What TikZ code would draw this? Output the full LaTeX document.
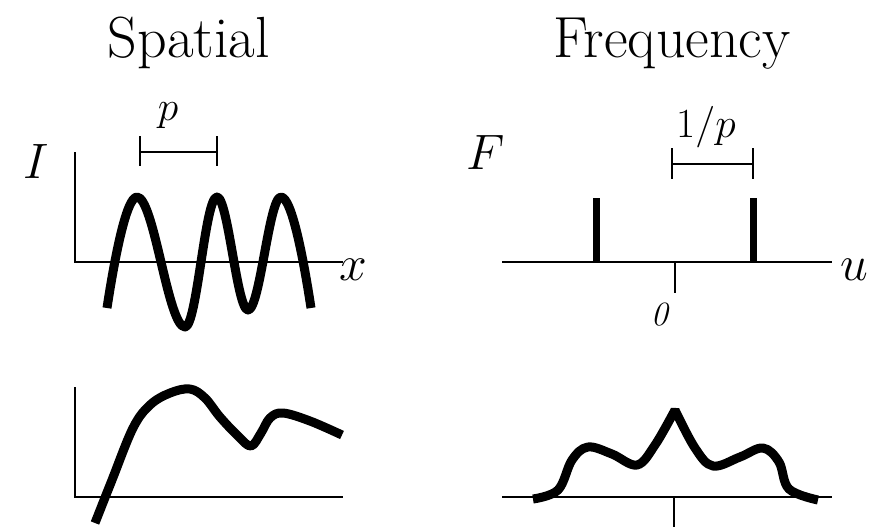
\documentclass[tikz,border=0pt]{standalone}

\tikzset{
  axis/.style={line width=1pt},
  wave/.style={line width=4.5pt, line join=round},
  spike/.style={line width=3.5pt},
  bracket/.style={line width=1pt},
  bigtext/.style={anchor=base, inner sep=0pt, font=\fontsize{29}{34}\selectfont},
  midtext/.style={anchor=base, inner sep=0pt, font=\fontsize{20}{24}\selectfont},
  smalltext/.style={anchor=base, inner sep=0pt, font=\fontsize{17}{20}\selectfont}
}

\begin{document}
\begin{tikzpicture}[x=0.5pt, y=-0.5pt]
  % page (875 x 527 pixels)
  \useasboundingbox (0,0) rectangle (875,527);

  % column titles
  \node[bigtext] (spatial) at (189,57) {Spatial};
  \node[bigtext] (frequency) at (672,57) {Frequency};

  % --- spatial, top: a grating
  \coordinate (o1) at (75,262);
  \draw[axis] (75,152) -- (o1) -- (343,262);
  \node[bigtext] (ilabel) at (36,178) {$I$};
  \node[bigtext] (xlabel) at (353,280) {$x$};

  % period bracket
  \draw[bracket] (140,152) -- (217,152);
  \foreach \x in {140,217}
    \draw[bracket] (\x,136) -- (\x,166);
  \node[midtext] (plabel) at (168,120) {$p$};

  % the wave
  \draw[wave] (107,308) .. controls (114,262) and (126,197) .. (137,197)
    .. controls (154,197) and (168,327) .. (185,327)
    .. controls (197,327) and (205,197) .. (217,197)
    .. controls (228,197) and (237,310) .. (248,310)
    .. controls (260,310) and (269,197) .. (281,197)
    .. controls (292,197) and (304,262) .. (311,308);

  % --- frequency, top: two spikes
  \coordinate (o2) at (675,262);
  \draw[axis] (502,262) -- (832,262);
  \draw[axis] (o2) -- (675,293);
  \node[bigtext] (flabel) at (486,169) {$F$};
  \node[bigtext] (ulabel) at (854,280) {$u$};
  \node[smalltext] (zero) at (660,325) {\textit{0}};

  \foreach \x in {596,753}
    \draw[spike] (\x,198) -- (\x,262);

  % inverse period bracket
  \draw[bracket] (672,164) -- (753,164);
  \foreach \x in {672,753}
    \draw[bracket] (\x,148) -- (\x,179);
  \node[midtext] (invp) at (706,137) {$1/p$};

  % --- spatial, bottom: an arbitrary signal
  \coordinate (o3) at (75,497);
  \draw[axis] (75,387) -- (o3) -- (343,497);
  \draw[wave] plot[smooth, tension=0.6] coordinates {
    (95,523) (112,480) (133,428) (150,405) (170,393) (190,389)
    (205,398) (220,417) (238,436) (251,446) (261,433) (270,418)
    (283,413) (310,421) (342,435)};

  % --- frequency, bottom: its spectrum
  \coordinate (o4) at (674,497);
  \draw[axis] (502,497) -- (832,497);
  \draw[axis] (o4) -- (674,527);
  \draw[wave, line join=bevel] plot[smooth, tension=0.6] coordinates {
    (533,499) (558,490) (572,460) (588,447) (612,454) (637,465)
    (655,445) (675,410)}
    -- plot[smooth, tension=0.6] coordinates {
    (675,410) (695,448) (713,466) (740,457) (763,448) (779,462)
    (789,489) (818,500)};
\end{tikzpicture}
\end{document}
